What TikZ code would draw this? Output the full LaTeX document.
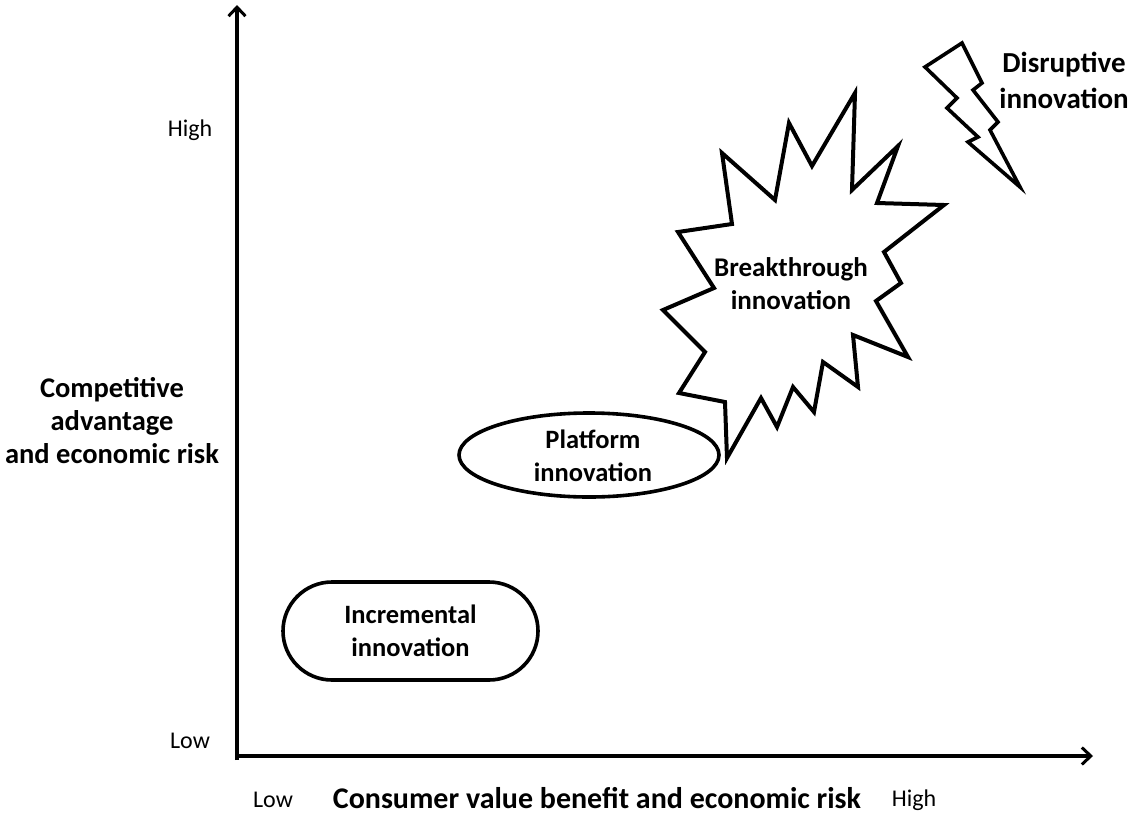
\documentclass[tikz,border=0pt]{standalone}
\usepackage{fontspec}
\setmainfont{Carlito}
\usetikzlibrary{arrows.meta,shapes.geometric}
\begin{document}
\begin{tikzpicture}[x=1pt,y=-1pt,
  outline/.style={draw=black,line width=3.6pt,line join=miter},
  axis/.style={line width=3.6pt,-{Straight Barb[length=9pt,width=17pt,line width=3pt]}},
  bigtext/.style={font=\bfseries\fontsize{26.5}{33}\selectfont,align=center,text=black},
  ticktext/.style={font=\fontsize{24}{28}\selectfont,text=black}]
\useasboundingbox (0,0) rectangle (1133,814);

% axes
\coordinate (origin) at (237,756);
\coordinate (ytop) at (237,5);
\coordinate (xend) at (1093,756);
\draw[axis] (237,760) -- (ytop);
\draw[axis] (235,756) -- (xend);

% axis labels
\node[ticktext] (yhigh) at (190,130) {High};
\node[ticktext] (ylow) at (190,741) {Low};
\node[ticktext] (xlow) at (273,800) {Low};
\node[ticktext] (xhigh) at (914,800) {High};
\node[bigtext,font=\bfseries\fontsize{30}{36}\selectfont] (xlabel) at (597,798) {Consumer value benefit and economic risk};
\node[bigtext,font=\bfseries\fontsize{28.5}{33}\selectfont] (ylabel) at (112,421) {Competitive\\advantage\\and economic risk};

% incremental innovation
\node[outline,rounded corners=49pt,minimum width=255pt,minimum height=98pt,
      bigtext] (incr) at (410.5,631) {Incremental\\innovation};

% platform innovation
\node[outline,ellipse,minimum width=260pt,minimum height=84pt,inner sep=0pt] (plat) at (589,455) {};
\node[bigtext] (plattext) at (593,456) {Platform\\innovation};

% breakthrough innovation (starburst)
\draw[outline,line width=4pt] (855,93) -- (852,190) -- (898,146) -- (877,203) -- (944,205)
  -- (884,252) -- (901,283) -- (876,301) -- (908,357) -- (853,335) -- (858,387)
  -- (823,362) -- (814,412) -- (793,387) -- (777,427) -- (761,398) -- (727,458)
  -- (725,402) -- (679,393) -- (705,352) -- (663,310) -- (714,288) -- (678,232)
  -- (732,224) -- (722,153) -- (775,200) -- (789,123) -- (812,166) -- cycle;
\node[bigtext,font=\bfseries\fontsize{27}{33}\selectfont] (break) at (791,284) {Breakthrough\\innovation};

% disruptive innovation (lightning bolt)
\draw[outline] (962,43) -- (925,67) -- (957,98) -- (947,108) -- (978,137) -- (968,142)
  -- (1020,187) -- (990,130) -- (998,122) -- (973,90) -- (982,83) -- cycle;
\node[bigtext,font=\bfseries\fontsize{29}{36}\selectfont] (disr) at (1064,80) {Disruptive\\innovation};
\end{tikzpicture}
\end{document}
